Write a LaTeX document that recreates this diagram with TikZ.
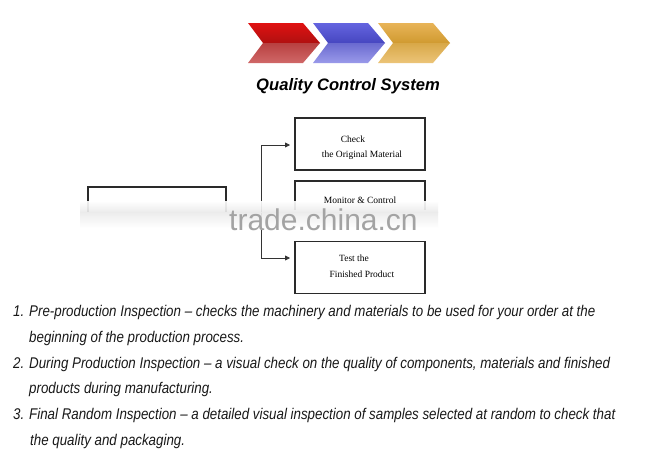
\documentclass[tikz,border=0pt]{standalone}
\usepackage{fontspec}
\setmainfont{Liberation Serif}
\setsansfont{Liberation Sans}
\newfontfamily\narrowit[FakeStretch=0.86]{Liberation Sans}
\newfontfamily\wmfont{Liberation Sans}
\usetikzlibrary{arrows.meta}
\definecolor{redA}{HTML}{E01212}
\definecolor{redB}{HTML}{B01010}
\definecolor{redC}{HTML}{B84040}
\definecolor{redD}{HTML}{D06868}
\definecolor{bluA}{HTML}{6464E0}
\definecolor{bluB}{HTML}{4646C0}
\definecolor{bluC}{HTML}{6A6AD0}
\definecolor{bluD}{HTML}{9A9AEA}
\definecolor{golA}{HTML}{E8B458}
\definecolor{golB}{HTML}{D09A30}
\definecolor{golC}{HTML}{D8A848}
\definecolor{golD}{HTML}{ECC478}
\definecolor{boxline}{HTML}{2A2A2A}
\tikzset{
  qbox/.style={draw=boxline, line width=1.6pt, minimum width=130pt, minimum height=52pt, inner sep=0pt},
  boxtext/.style={font=\fontsize{9.5}{11}\selectfont, text=black, inner sep=0pt, anchor=base},
  itemtext/.style={font=\narrowit\itshape\fontsize{15.5}{17}\selectfont, text=black!90, inner sep=0pt, anchor=base west},
  conn/.style={draw=black!80, line width=0.8pt},
  arr/.style={conn, -{Triangle[length=5pt,width=5pt]}},
}
\newcommand\chev[6]{%
  \shade[top color=#3, bottom color=#4] (#1,23) -- (#1+55,23) -- (#1+72,43) -- (#1+15,43) -- cycle;
  \shade[top color=#5, bottom color=#6] (#1+15,43) -- (#1+72,43) -- (#1+55,63) -- (#1,63) -- cycle;}
\begin{document}
\begin{tikzpicture}[x=1pt,y=-1pt]
\useasboundingbox (0,0) rectangle (650,458);
\fill[white] (0,0) rectangle (650,458);
% chevrons
\chev{248}{}{redA}{redB}{redC}{redD}
\chev{313}{}{bluA}{bluB}{bluC}{bluD}
\chev{378}{}{golA}{golB}{golC}{golD}
\node[font=\sffamily\bfseries\itshape\fontsize{16.6}{20}\selectfont, inner sep=0pt, anchor=base] (title) at (348,90) {Quality Control System};
% boxes
\node[qbox] (b1) at (360,144) {};
\node[qbox] (b3) at (360,267.5) {};
\node[boxtext] (t1a) at (353,142) {Check};
\node[boxtext] (t1b) at (362,157) {the Original Material};
\node[boxtext] (t3a) at (354,261) {Test the};
\node[boxtext] (t3b) at (362,277) {Finished Product};
% partial boxes (lower part hidden)
\coordinate (L1) at (88,212); \coordinate (L2) at (88,187); \coordinate (L3) at (226,187); \coordinate (L4) at (226,212);
\draw[draw=boxline, line width=1.6pt] (L1) -- (L2) -- (L3) -- (L4);
\coordinate (M1) at (295,210); \coordinate (M2) at (295,181); \coordinate (M3) at (425,181); \coordinate (M4) at (425,210);
\draw[draw=boxline, line width=1.6pt] (M1) -- (M2) -- (M3) -- (M4);
% connectors
\coordinate (j1) at (261,145);
\coordinate (j2) at (261,258);
\coordinate (e1) at (290,145);
\coordinate (e2) at (290,258);
\draw[conn] (j1) -- (j2);
\draw[arr] (j1) -- (e1);
\draw[arr] (j2) -- (e2);
% haze band
\shade[top color=white, bottom color=gray!16, opacity=0.92] (80,201) rectangle (438,212);
\shade[top color=gray!16, bottom color=white, opacity=0.92] (80,212) rectangle (438,228);
\node[boxtext] (t2a) at (360,203) {Monitor \& Control};
\node[font=\wmfont\fontsize{30}{31}\selectfont, text=gray!72, inner sep=0pt, anchor=base west] (wm) at (229,230) {trade.china.cn};
% list
\node[itemtext] (n1) at (13,316) {1.};
\node[itemtext] (l1) at (29,316) {Pre-production Inspection – checks the machinery and materials to be used for your order at the};
\node[itemtext] (l2) at (29,342) {beginning of the production process.};
\node[itemtext] (n2) at (13,368) {2.};
\node[itemtext] (l3) at (29,368) {During Production Inspection – a visual check on the quality of components, materials and finished};
\node[itemtext] (l4) at (29,393.5) {products during manufacturing.};
\node[itemtext] (n3) at (13,419) {3.};
\node[itemtext] (l5) at (29,419) {Final Random Inspection – a detailed visual inspection of samples selected at random to check that};
\node[itemtext] (l6) at (30,445) {the quality and packaging.};
\end{tikzpicture}
\end{document}
